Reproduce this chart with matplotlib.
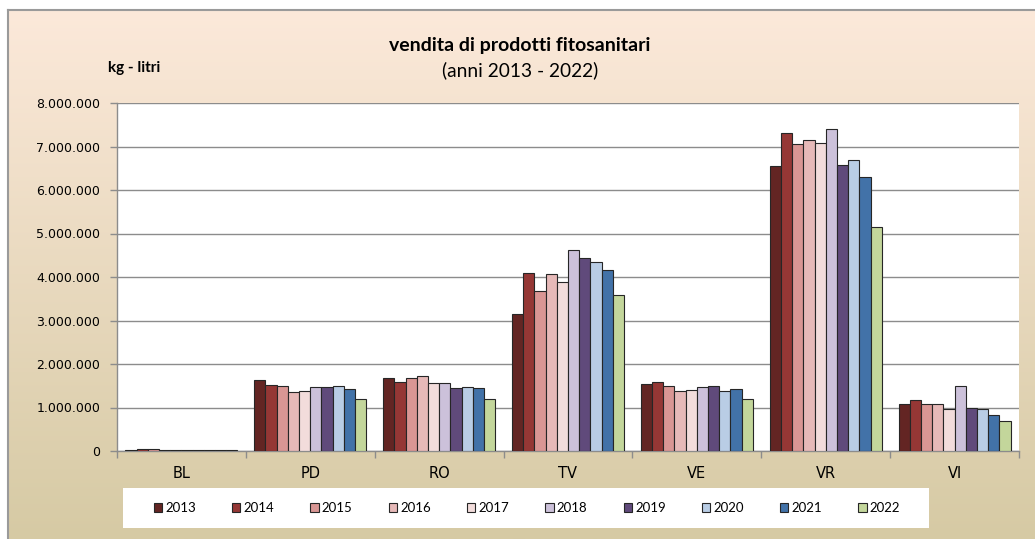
import numpy as np
import matplotlib
matplotlib.use("Agg")
import matplotlib.pyplot as plt
from matplotlib.ticker import FuncFormatter
from matplotlib.patches import Rectangle

plt.rcParams['font.family'] = ['Lato', 'DejaVu Sans']

province = ["BL", "PD", "RO", "TV", "VE", "VR", "VI"]
anni = ["2013", "2014", "2015", "2016", "2017", "2018", "2019", "2020", "2021", "2022"]

# vendite per anno (kg - litri), una lista per provincia
BL = [20000, 45000, 40000, 15000, 15000, 15000, 15000, 15000, 15000, 15000]
PD = [1640000, 1520000, 1490000, 1350000, 1390000, 1470000, 1470000, 1490000, 1420000, 1200000]
RO = [1680000, 1590000, 1680000, 1730000, 1560000, 1560000, 1450000, 1480000, 1450000, 1200000]
TV = [3160000, 4100000, 3670000, 4080000, 3890000, 4620000, 4430000, 4350000, 4150000, 3580000]
VE = [1540000, 1580000, 1490000, 1370000, 1400000, 1470000, 1490000, 1370000, 1420000, 1200000]
VR = [6560000, 7310000, 7050000, 7160000, 7070000, 7410000, 6580000, 6680000, 6290000, 5150000]
VI = [1080000, 1170000, 1080000, 1080000, 970000, 1490000, 980000, 960000, 830000, 680000]

colori = ["#632523", "#953735", "#D99694", "#E6B9B8", "#F2DCDB",
          "#CCC1DA", "#604A7B", "#B9CDE5", "#4272A8", "#C3D69B"]

valori = np.array([BL, PD, RO, TV, VE, VR, VI])

fig = plt.figure(figsize=(10.35, 5.39), dpi=100)

# sfondo sfumato
bg = fig.add_axes([8/1035, 0, 1 - 8/1035, 1 - 10/539], zorder=-10)
grad = np.linspace(0, 1, 256).reshape(-1, 1)
top = np.array([252, 233, 218]) / 255
bot = np.array([214, 202, 164]) / 255
img = top + (bot - top) * grad[:, :, None]
bg.imshow(img, aspect='auto', extent=[0, 1, 0, 1])
bg.set_xlim(0, 1)
bg.set_ylim(0, 1)
bg.set_xticks([])
bg.set_yticks([])
for s in ['right', 'bottom']:
    bg.spines[s].set_visible(False)
for s in ['top', 'left']:
    bg.spines[s].set_color('#9a9a9a')
    bg.spines[s].set_linewidth(1.5)

ax = fig.add_axes([117/1035, 1 - 451/539, 902/1035, 348/539])
ax.set_facecolor('white')

n = len(anni)
larg = 0.87 / n
x = np.arange(len(province))
for i, anno in enumerate(anni):
    ax.bar(x - 0.435 + larg * (i + 0.5), valori[:, i], width=larg,
           color=colori[i], edgecolor='#262626', linewidth=0.8, label=anno, zorder=3)

ax.set_xlim(-0.5, len(province) - 0.5)
ax.set_ylim(0, 8000000)
ax.set_yticks(np.arange(0, 8000001, 1000000))
ax.yaxis.set_major_formatter(FuncFormatter(lambda v, p: f"{int(v):,}".replace(",", ".")))
ax.yaxis.grid(True, color='#8c8c8c', linewidth=1.0, zorder=0)
ax.set_axisbelow(True)

ax.set_xticks(x)
ax.set_xticklabels(province, fontsize=10.5, family=['DejaVu Sans'])
ax.set_xticks(np.arange(-0.5, len(province)), minor=True)
ax.tick_params(axis='x', which='major', length=0, pad=11)
ax.tick_params(axis='x', which='minor', length=5, color='#8c8c8c', width=1)
ax.tick_params(axis='y', length=5, color='#8c8c8c', width=1, labelsize=9, pad=7)
for lab in ax.get_yticklabels():
    lab.set_family(['DejaVu Sans'])

for s in ['top', 'right']:
    ax.spines[s].set_visible(False)
for s in ['left', 'bottom']:
    ax.spines[s].set_color('#8c8c8c')
    ax.spines[s].set_linewidth(1)

fig.text(520/1035, 1 - 46/539, "vendita di prodotti fitosanitari", ha='center', va='center',
         fontsize=14, fontweight='bold')
fig.text(520/1035, 1 - 70/539, "(anni 2013 - 2022)", ha='center', va='center', fontsize=13.8)
fig.text(134/1035, 1 - 68/539, "kg - litri", ha='center', va='center', fontsize=11, fontweight='bold')

# riquadro legenda
fig.patches.append(Rectangle((123/1035, 1 - 528/539), 806/1035, 40/539,
                             transform=fig.transFigure, facecolor='white', edgecolor='none', zorder=1))
leg = fig.legend(loc='center', bbox_to_anchor=(527/1035, 1 - 508/539), ncol=10, frameon=False,
                 fontsize=9.5, handlelength=0.62, handleheight=0.62, handletextpad=0.24,
                 columnspacing=2.75)

fig.savefig("out.png", dpi=100)
